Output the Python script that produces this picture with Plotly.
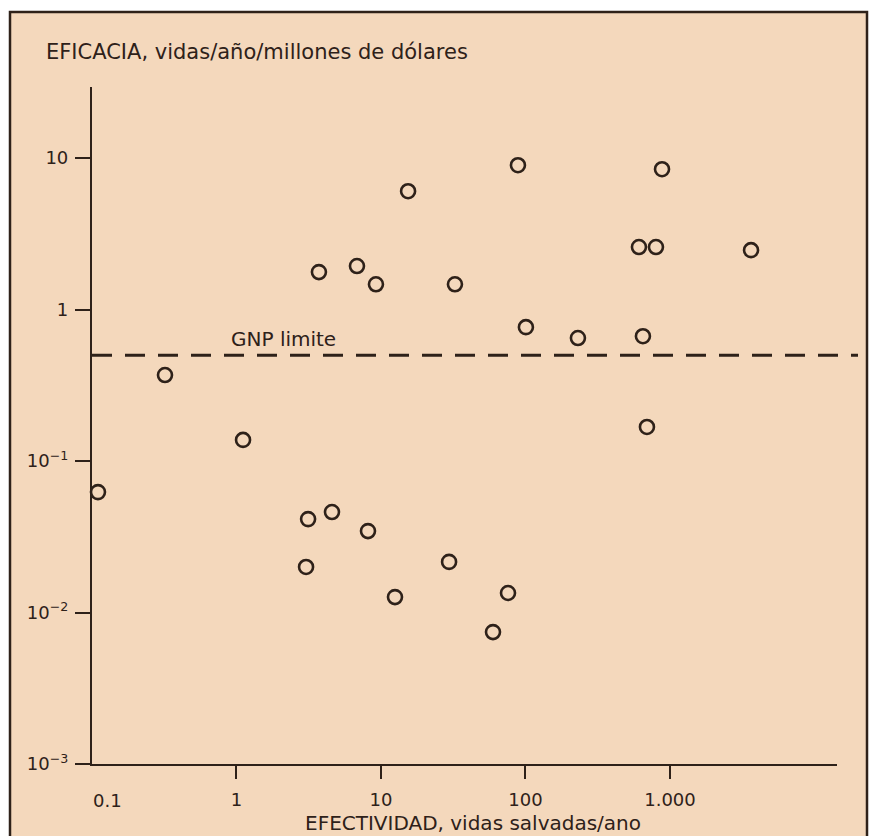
import plotly.graph_objects as go

# ---- data ----
efectividad = [0.110, 0.320, 1.11, 3.72, 6.82, 9.23, 15.4, 32.5,
               3.13, 4.58, 8.13, 3.03, 12.5, 29.6, 75.7, 59.6,
               88.7, 100.7, 230.7, 650, 693, 881, 610, 800, 3640]
eficacia = [0.0624, 0.370, 0.138, 1.77, 1.94, 1.47, 6.05, 1.47,
            0.0414, 0.0461, 0.0345, 0.0200, 0.01265, 0.0216, 0.01346, 0.00743,
            8.99, 0.766, 0.649, 0.668, 0.168, 8.46, 2.59, 2.59, 2.47]
gnp_limite = 0.5

x_tickvals = [1, 10, 100, 1000]
x_ticktext = ["1", "10", "100", "1.000"]
x_corner_label = "0.1"
y_tickvals = [0.001, 0.01, 0.1, 1, 10]
y_ticktext = ["10<sup>−3</sup>", "10<sup>−2</sup>", "10<sup>−1</sup>", "1", "10"]

y_title = "EFICACIA, vidas/año/millones de dólares"
x_title = "EFECTIVIDAD, vidas salvadas/ano"
gnp_label = "GNP limite"

# ---- style ----
INK = "#2e2119"
PEACH = "#f4d8bc"
FONT = "DejaVu Sans, Liberation Sans, Arial, sans-serif"

W, H = 870, 836
L, R, T, B = 92, 33, 87, 72
pw, ph = W - L - R, H - T - B


def px(xp):
    return (xp - L) / pw


def py(yp):
    return (H - B - yp) / ph


fig = go.Figure()
fig.add_trace(go.Scatter(
    x=efectividad, y=eficacia, mode="markers",
    marker=dict(symbol="circle", size=14, color=PEACH,
                line=dict(color=INK, width=2.6)),
    cliponaxis=False, showlegend=False, hoverinfo="x+y",
))

shapes = [
    # framed peach panel
    dict(type="rect", xref="paper", yref="paper",
         x0=px(10), x1=px(867), y0=py(850), y1=py(12),
         fillcolor=PEACH, line=dict(color=INK, width=2.5), layer="below"),
    # GNP limit dashed line
    dict(type="line", xref="paper", yref="y",
         x0=0, x1=px(858), y0=gnp_limite, y1=gnp_limite,
         line=dict(color=INK, width=3, dash="20px,13px"), layer="above"),
]

annotations = [
    dict(text=y_title, xref="paper", yref="paper", x=px(44), y=py(52),
         xanchor="left", yanchor="middle", showarrow=False,
         font=dict(family=FONT, size=21, color=INK)),
    dict(text=x_title, xref="paper", yref="paper", x=px(473), y=py(823),
         xanchor="center", yanchor="middle", showarrow=False,
         font=dict(family=FONT, size=20, color=INK)),
    dict(text=gnp_label, xref="paper", yref="paper", x=px(229), y=py(339),
         xanchor="left", yanchor="middle", showarrow=False,
         font=dict(family=FONT, size=20, color=INK)),
    dict(text=x_corner_label, xref="paper", yref="paper", x=px(107), y=py(800),
         xanchor="center", yanchor="middle", showarrow=False,
         font=dict(family=FONT, size=18, color=INK)),
]

fig.update_layout(
    width=W, height=H,
    margin=dict(l=L, r=R, t=T, b=B, pad=0),
    paper_bgcolor="white", plot_bgcolor="rgba(0,0,0,0)",
    shapes=shapes, annotations=annotations,
    font=dict(family=FONT, color=INK, size=18),
    xaxis=dict(type="log", range=[-1, 4.156], showgrid=False, zeroline=False,
               showline=True, linecolor=INK, linewidth=2.2,
               ticks="outside", ticklen=13, tickwidth=2.2, tickcolor=INK,
               tickvals=x_tickvals, ticktext=x_ticktext,
               ticklabelstandoff=5,
               tickfont=dict(family=FONT, size=18, color=INK)),
    yaxis=dict(type="log", range=[-3, 1.47], showgrid=False, zeroline=False,
               showline=True, linecolor=INK, linewidth=2.2,
               ticks="outside", ticklen=15, tickwidth=2.2, tickcolor=INK,
               tickvals=y_tickvals, ticktext=y_ticktext,
               ticklabelstandoff=3,
               tickfont=dict(family=FONT, size=18, color=INK)),
)

fig.write_html("out.html", config={"displayModeBar": False},
               post_script="document.body.style.margin='0';")
